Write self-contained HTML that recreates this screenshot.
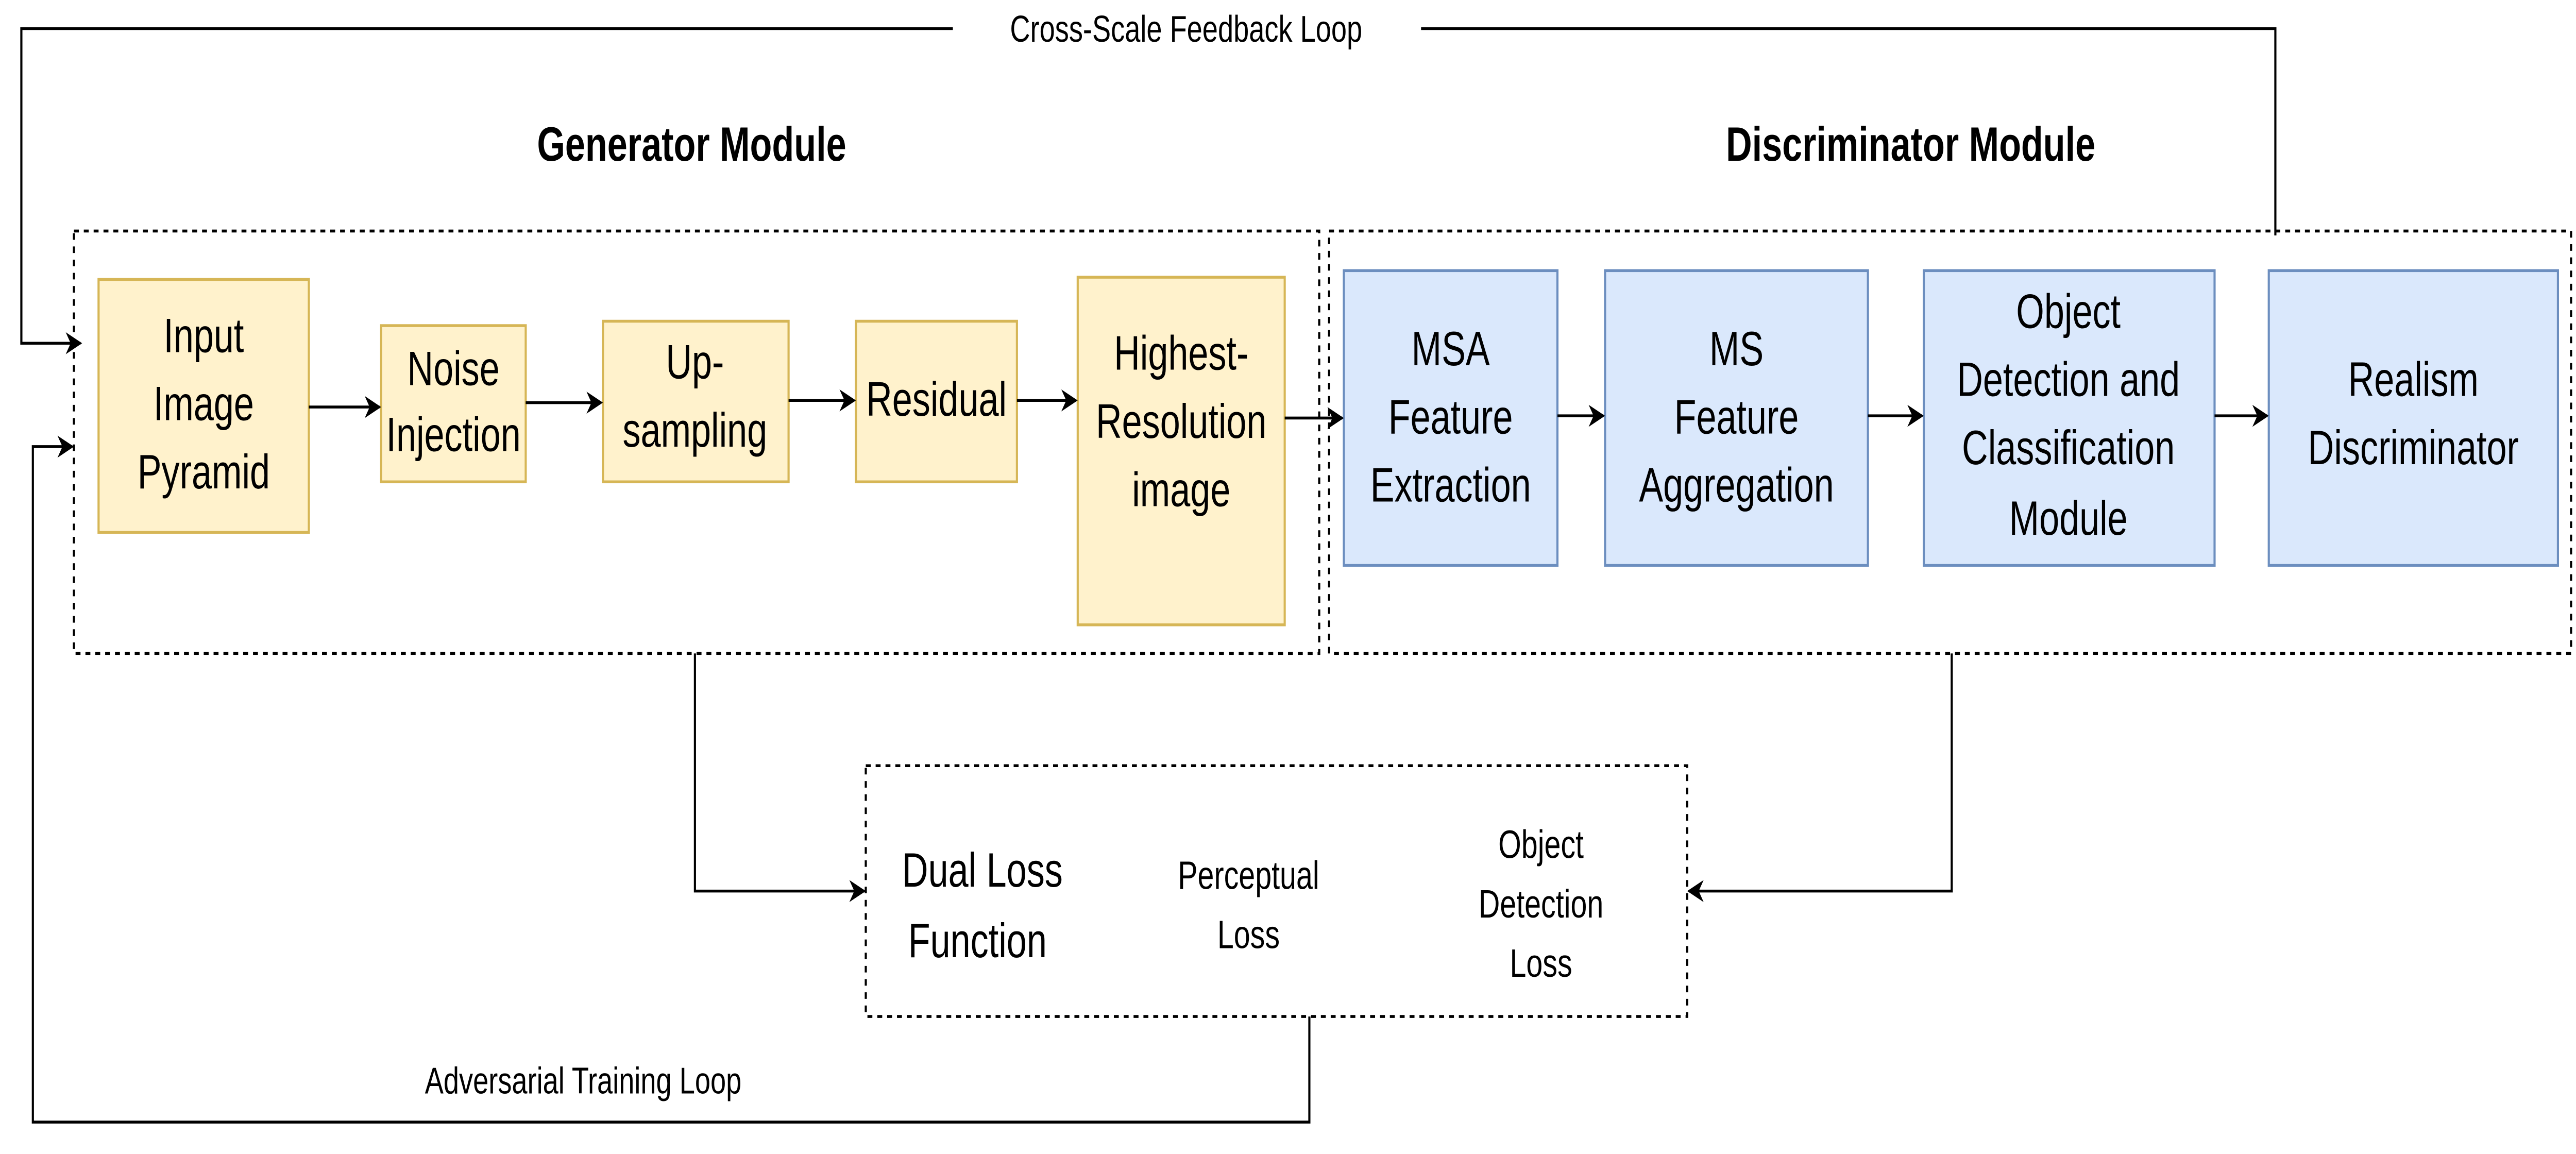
<!DOCTYPE html>
<html><head><meta charset="utf-8"><style>
html,body{margin:0;padding:0;background:#fff;width:100%;height:100%;overflow:hidden;}
svg{display:block;width:100vw;height:100vh;}
text{font-family:"Liberation Sans",Arial,sans-serif;fill:#000;}
</style></head><body>
<svg viewBox="0 0 1568 524.5" preserveAspectRatio="none" xmlns="http://www.w3.org/2000/svg">
<defs>
<marker id="b" viewBox="0 0 10 10" refX="9" refY="5" markerWidth="10" markerHeight="10" markerUnits="userSpaceOnUse" orient="auto">
<path d="M0,0 L10,5 L0,10 L3,5 Z" fill="#000"/>
</marker>
</defs>
<g fill="none" stroke="#000" stroke-width="1.3">
<polyline points="1385,107 1385,13 865,13"/>
<polyline points="580,13 13,13 13,156 49,156" marker-end="url(#b)"/>
<polyline points="797,462 797,510 20,510 20,203 44,203" marker-end="url(#b)"/>
<polyline points="423,297 423,405 526,405" marker-end="url(#b)"/>
<polyline points="1188,297 1188,405 1028,405" marker-end="url(#b)"/>
</g>
<g fill="none" stroke="#000" stroke-width="1.3" stroke-dasharray="3,3">
<rect x="45" y="105" width="758" height="192"/>
<rect x="809" y="105" width="756" height="192"/>
<rect x="527" y="348" width="500" height="114"/>
</g>
<text x="421" y="73" font-size="22" font-weight="bold" text-anchor="middle">Generator Module</text>
<text x="1163" y="73" font-size="22" font-weight="bold" text-anchor="middle">Discriminator Module</text>
<text x="722" y="19" font-size="17" text-anchor="middle">Cross-Scale Feedback Loop</text>
<text x="355" y="497" font-size="17" text-anchor="middle">Adversarial Training Loop</text>
<g fill="#fff2cc" stroke="#d6b656" stroke-width="1.3">
<rect x="60" y="127" width="128" height="115"/>
<rect x="232" y="148" width="88" height="71"/>
<rect x="367" y="146" width="113" height="73"/>
<rect x="521" y="146" width="98" height="73"/>
<rect x="656" y="126" width="126" height="158"/>
</g>
<g fill="#dae8fc" stroke="#6c8ebf" stroke-width="1.3">
<rect x="818" y="123" width="130" height="134"/>
<rect x="977" y="123" width="160" height="134"/>
<rect x="1171" y="123" width="177" height="134"/>
<rect x="1381" y="123" width="176" height="134"/>
</g>
<g fill="none" stroke="#000" stroke-width="1.3">
<line x1="188" y1="185" x2="231" y2="185" marker-end="url(#b)"/>
<line x1="320" y1="183" x2="366" y2="183" marker-end="url(#b)"/>
<line x1="480" y1="182" x2="520" y2="182" marker-end="url(#b)"/>
<line x1="619" y1="182" x2="655" y2="182" marker-end="url(#b)"/>
<line x1="782" y1="190" x2="817" y2="190" marker-end="url(#b)"/>
<line x1="948" y1="189" x2="976" y2="189" marker-end="url(#b)"/>
<line x1="1137" y1="189" x2="1170" y2="189" marker-end="url(#b)"/>
<line x1="1348" y1="189" x2="1380" y2="189" marker-end="url(#b)"/>
</g>
<g font-size="22" text-anchor="middle">
<text x="124" y="160">Input</text><text x="124" y="191">Image</text><text x="124" y="222">Pyramid</text>
<text x="276" y="175">Noise</text><text x="276" y="205">Injection</text>
<text x="423" y="172">Up-</text><text x="423" y="203">sampling</text>
<text x="570" y="189">Residual</text>
<text x="719" y="168">Highest-</text><text x="719" y="199">Resolution</text><text x="719" y="230">image</text>
<text x="883" y="166">MSA</text><text x="883" y="197">Feature</text><text x="883" y="228">Extraction</text>
<text x="1057" y="166">MS</text><text x="1057" y="197">Feature</text><text x="1057" y="228">Aggregation</text>
<text x="1259" y="149">Object</text><text x="1259" y="180">Detection and</text><text x="1259" y="211">Classification</text><text x="1259" y="243">Module</text>
<text x="1469" y="180">Realism</text><text x="1469" y="211">Discriminator</text>
<text x="598" y="403">Dual Loss</text><text x="595" y="435">Function</text>
</g>
<g font-size="18" text-anchor="middle">
<text x="760" y="404">Perceptual</text><text x="760" y="431">Loss</text>
<text x="938" y="390">Object</text><text x="938" y="417">Detection</text><text x="938" y="444">Loss</text>
</g>
</svg>
</body></html>
